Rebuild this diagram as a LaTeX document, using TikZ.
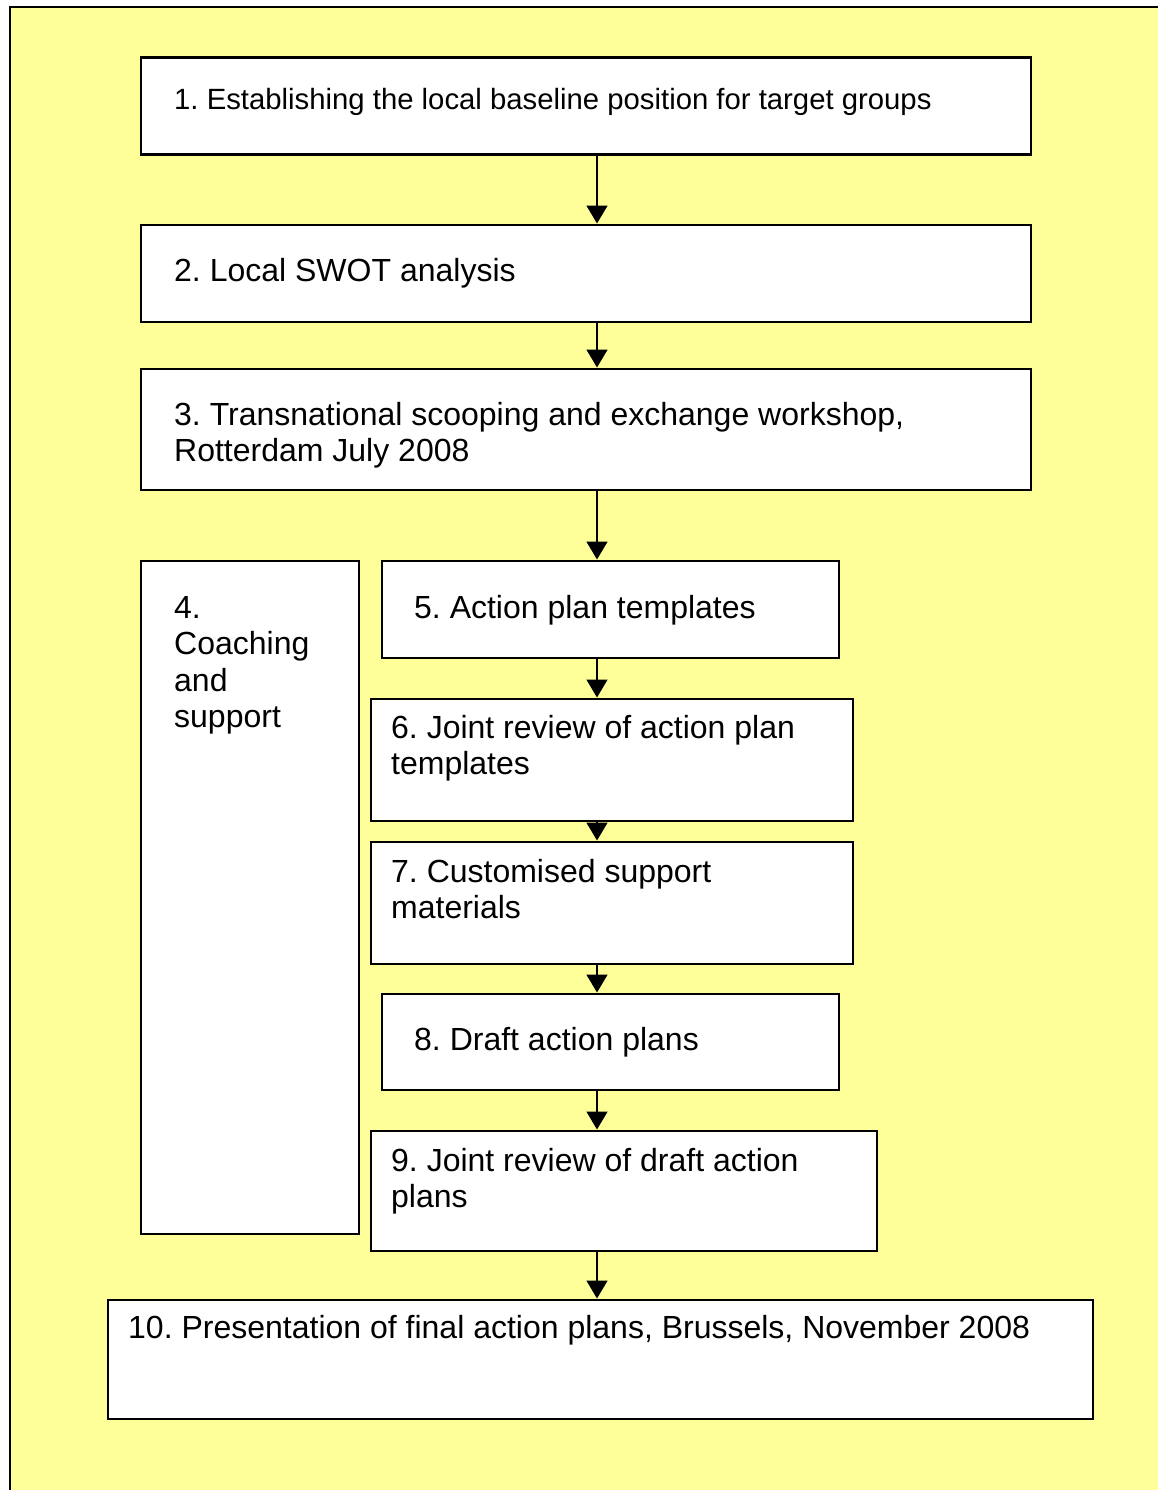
\documentclass[tikz,border=0pt]{standalone}
\usepackage{fontspec}
\setmainfont{Liberation Sans}
\usetikzlibrary{arrows.meta}
\definecolor{bgyellow}{HTML}{FFFF99}
\frenchspacing
\newcommand{\ml}[1]{\begin{tabular}[t]{@{}l@{}}#1\end{tabular}}
\tikzset{
  box/.style={draw=black, fill=white, line width=2.5pt, inner sep=0pt, anchor=north west},
  txt/.style={anchor=base west, inner sep=0pt, font=\fontsize{32}{36.5}\selectfont},
  txtsmall/.style={anchor=base west, inner sep=0pt, font=\fontsize{29.3}{34}\selectfont},
  flow/.style={line width=1.7pt, -{Triangle[length=18pt,width=21pt]}}
}
\begin{document}
\frenchspacing
\begin{tikzpicture}[x=1pt,y=-1pt]
\useasboundingbox (0,0) rectangle (1157,1490);
\fill[white] (0,0) rectangle (1157,1490);
\fill[bgyellow] (10,7) rectangle (1160,1495);
\draw[line width=2.5pt] (10,1495) -- (10,7) -- (1160,7);
% boxes
\node[box, minimum width=890pt, minimum height=97pt]  (b1)  at (139.5,56.5)   {};
\node[box, minimum width=890pt, minimum height=97pt]  (b2)  at (139.5,223.5)  {};
\node[box, minimum width=890pt, minimum height=121pt] (b3)  at (139.5,367.5)  {};
\node[box, minimum width=218pt, minimum height=673pt] (b4)  at (139.5,559.5)  {};
\node[box, minimum width=457pt, minimum height=97pt]  (b5)  at (380.5,559.5)  {};
\node[box, minimum width=482pt, minimum height=122pt] (b6)  at (369.5,697.5)  {};
\node[box, minimum width=482pt, minimum height=122pt] (b7)  at (369.5,840.5)  {};
\node[box, minimum width=457pt, minimum height=96pt]  (b8)  at (380.5,992.5)  {};
\node[box, minimum width=506pt, minimum height=120pt] (b9)  at (369.5,1129.5) {};
\node[box, minimum width=985pt, minimum height=119pt] (b10) at (106.5,1298.5) {};
% texts
\node[txtsmall] (t1) at (174,110) {1. Establishing the local baseline position for target groups};
\node[txt] (t2) at (174,281) {2. Local SWOT analysis};
\node[txt] (t3) at (174,425) {\ml{3. Transnational scooping and exchange workshop,\\Rotterdam July 2008}};
\node[txt] (t4) at (174,618) {\ml{4.\\Coaching\\and\\support}};
\node[txt] (t5) at (414,618) {5. Action plan templates};
\node[txt] (t6) at (391,738) {\ml{6. Joint review of action plan\\templates}};
\node[txt] (t7) at (391,882) {\ml{7. Customised support\\materials}};
\node[txt] (t8) at (414,1050) {8. Draft action plans};
\node[txt] (t9) at (391,1171) {\ml{9. Joint review of draft action\\plans}};
\node[txt] (t10) at (128,1338) {10. Presentation of final action plans, Brussels, November 2008};
% arrows
\coordinate (ax) at (597,0);
\draw[flow] (b1.south -| ax) -- (b2.north -| ax);
\draw[flow] (b2.south -| ax) -- (b3.north -| ax);
\draw[flow] (b3.south -| ax) -- (b5.north -| ax);
\draw[flow] (b5.south -| ax) -- (b6.north -| ax);
\draw[flow] (b6.south -| ax) -- (b7.north -| ax);
\draw[flow] (b7.south -| ax) -- (b8.north -| ax);
\draw[flow] (b8.south -| ax) -- (b9.north -| ax);
\draw[flow] (b9.south -| ax) -- (b10.north -| ax);
\end{tikzpicture}
\end{document}
